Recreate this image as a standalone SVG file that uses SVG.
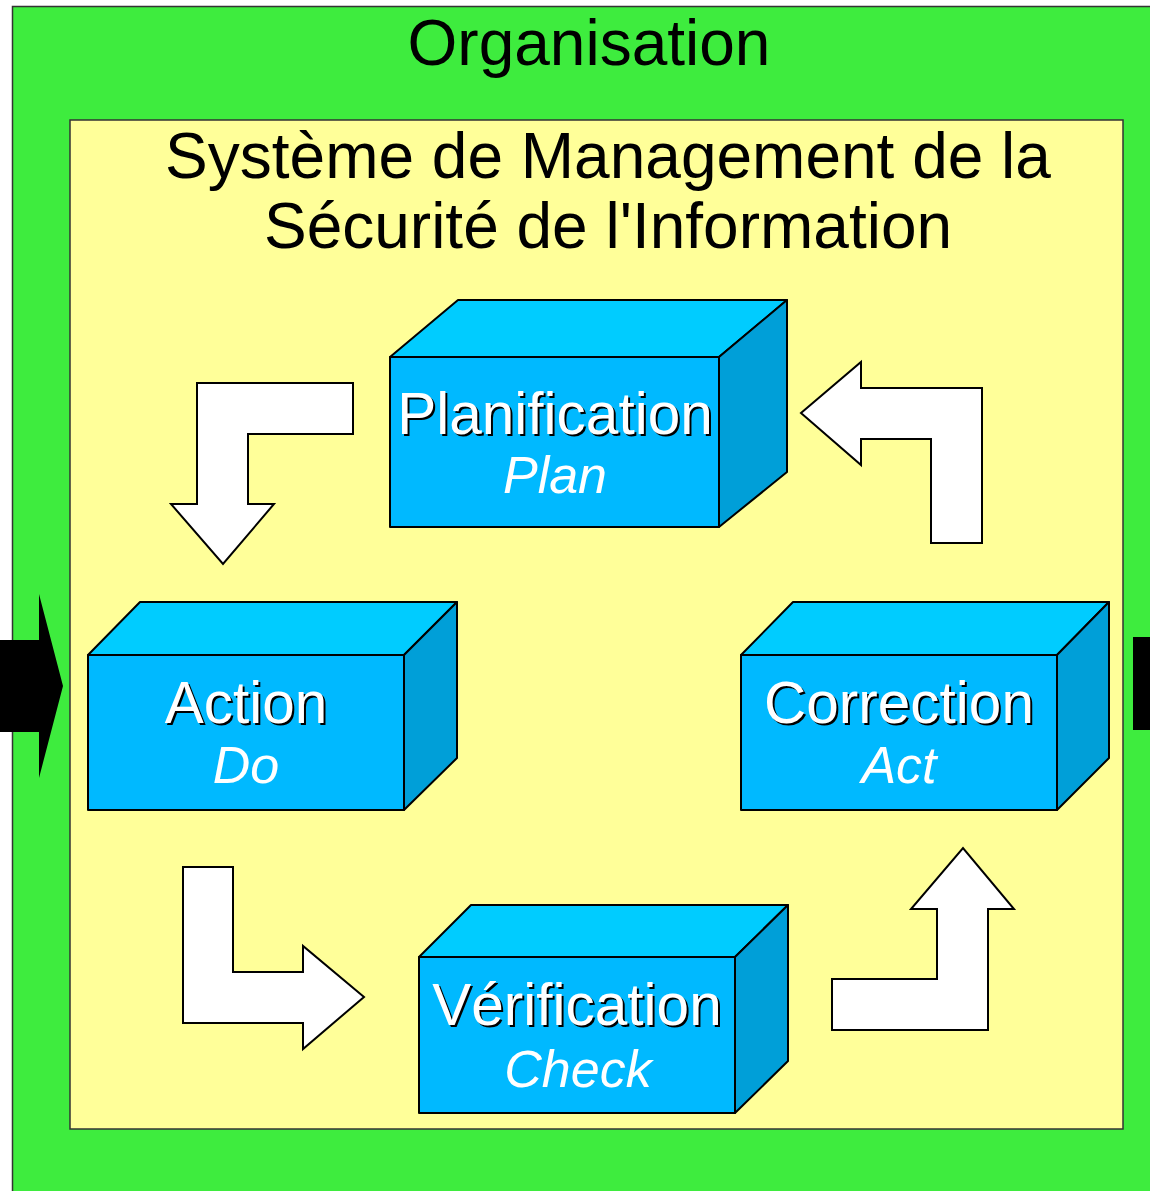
<svg xmlns="http://www.w3.org/2000/svg" width="1150" height="1191" viewBox="0 0 1150 1191">
  <style>
    .title { font-family: "Liberation Sans", Arial, sans-serif; font-size: 64px; fill: #000; text-anchor: middle; }
    .front { fill: #00b9ff; stroke: #000; stroke-width: 2; stroke-linejoin: round; }
    .top { fill: #00ccff; stroke: #000; stroke-width: 2; stroke-linejoin: round; }
    .side { fill: #009fd8; stroke: #000; stroke-width: 2; stroke-linejoin: round; }
    .label { font-family: "Liberation Sans", Arial, sans-serif; font-size: 58.5px; text-anchor: middle; }
    .label-shadow { fill: #000; }
    .label-main { fill: #fff; }
    .sub { font-family: "Liberation Sans", Arial, sans-serif; font-size: 52px; font-style: italic; fill: #fff; text-anchor: middle; }
    .flow { fill: #fff; stroke: #000; stroke-width: 2; stroke-linejoin: miter; }
  </style>

  <!-- outer organisation frame -->
  <g id="organisation">
    <rect x="12.5" y="6.5" width="1150" height="1200" fill="#3eec3e" stroke="#333" stroke-width="1.5"/>
    <text class="title" x="589" y="65">Organisation</text>
  </g>

  <!-- ISMS frame -->
  <g id="smsi">
    <rect x="70" y="120" width="1053" height="1009" fill="#ffff99" stroke="#333" stroke-width="1.5"/>
    <text class="title" x="608" y="178">Système de Management de la</text>
    <text class="title" x="608" y="248">Sécurité de l'Information</text>
  </g>

  <!-- input / output arrows -->
  <g id="io">
    <polygon points="0,640 39,640 39,594 63,686 39,778 39,732 0,732" fill="#000"/>
    <rect x="1133" y="637" width="17" height="93" fill="#000"/>
  </g>

  <!-- PDCA boxes -->
  <g id="plan">
    <polygon class="top" points="390,357 458,300 787,300 719,357"/>
    <polygon class="side" points="719,357 787,300 787,472 719,527"/>
    <rect class="front" x="390" y="357" width="329" height="170"/>
    <text class="label label-shadow" x="557" y="436">Planification</text>
    <text class="label label-main" x="555" y="434">Planification</text>
    <text class="sub" x="555" y="493">Plan</text>
  </g>

  <g id="do">
    <polygon class="top" points="88,655 140,602 457,602 404,655"/>
    <polygon class="side" points="404,655 457,602 457,758 404,810"/>
    <rect class="front" x="88" y="655" width="316" height="155"/>
    <text class="label label-shadow" x="248" y="725">Action</text>
    <text class="label label-main" x="246" y="723">Action</text>
    <text class="sub" x="246" y="783">Do</text>
  </g>

  <g id="act">
    <polygon class="top" points="741,655 793,602 1109,602 1057,655"/>
    <polygon class="side" points="1057,655 1109,602 1109,758 1057,810"/>
    <rect class="front" x="741" y="655" width="316" height="155"/>
    <text class="label label-shadow" x="901" y="725">Correction</text>
    <text class="label label-main" x="899" y="723">Correction</text>
    <text class="sub" x="899" y="783">Act</text>
  </g>

  <g id="check">
    <polygon class="top" points="419,957 471,905 788,905 735,957"/>
    <polygon class="side" points="735,957 788,905 788,1061 735,1113"/>
    <rect class="front" x="419" y="957" width="316" height="156"/>
    <text class="label label-shadow" x="579" y="1027">Vérification</text>
    <text class="label label-main" x="577" y="1025">Vérification</text>
    <text class="sub" x="578" y="1087">Check</text>
  </g>

  <!-- cycle arrows -->
  <g id="connectors">
    <polygon class="flow" points="197,383 353,383 353,434 248,434 248,504 274,504 223,564 171,504 197,504"/>
    <polygon class="flow" points="183,867 233,867 233,972 303,972 303,946 364,997 303,1049 303,1023 183,1023"/>
    <polygon class="flow" points="832,979 937,979 937,909 911,909 963,848 1014,909 988,909 988,1030 832,1030"/>
    <polygon class="flow" points="982,388 982,543 931,543 931,439 861,439 861,465 801,413 861,362 861,388"/>
  </g>
</svg>
